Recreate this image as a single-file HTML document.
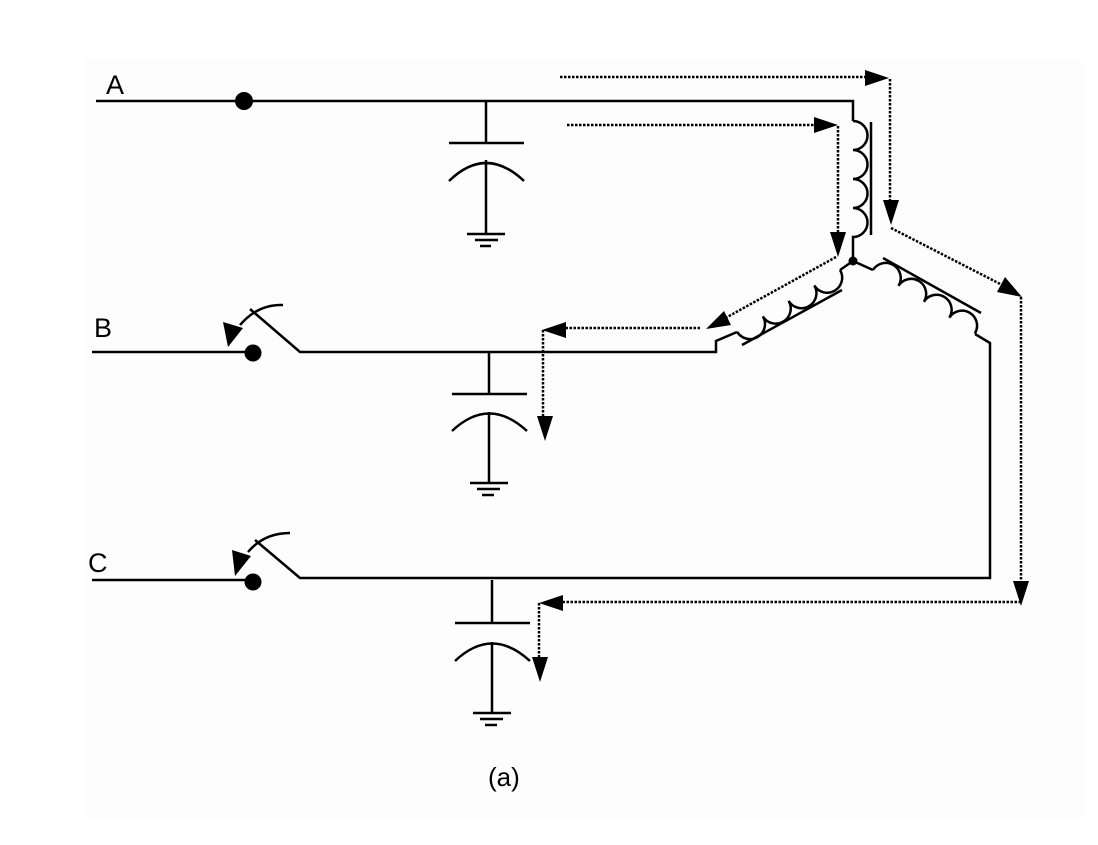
<!DOCTYPE html>
<html><head><meta charset="utf-8"><style>
html,body{margin:0;padding:0;background:#fff;}
svg{display:block;}
text{font-family:"Liberation Sans",sans-serif;fill:#000;}
</style></head><body>
<svg width="1098" height="845" viewBox="0 0 1098 845" xmlns="http://www.w3.org/2000/svg">
<rect x="85" y="59" width="1000" height="760" fill="#fdfdfd"/>
<g stroke="#000" stroke-width="2.5" fill="none">
<path d="M96 101 H853 V121"/>
<path d="M853 121 a14.5 14.5 0 0 1 0 29 a14.5 14.5 0 0 1 0 29 a14.5 14.5 0 0 1 0 29 a14.5 14.5 0 0 1 0 29 V261"/>
<line x1="871" y1="122" x2="871" y2="235"/>
<path d="M853 261 L840 270"/>
<g transform="translate(840,270) rotate(149)">
<path d="M0 0 a15 15 0 0 1 30 0 a15 15 0 0 1 30 0 a15 15 0 0 1 30 0 a15 15 0 0 1 30 0"/>
</g>
<path d="M737 332 L716 341 V352 H300 L250 309"/>
<line x1="742" y1="345" x2="842" y2="290"/>
<path d="M853 261 L873 270"/>
<g transform="translate(873,270) rotate(32)">
<path d="M0 0 a15 15 0 0 1 30 0 a15 15 0 0 1 30 0 a15 15 0 0 1 30 0 a15 15 0 0 1 30 0"/>
</g>
<path d="M975 334 L990 343 V578 H300 L255 540"/>
<line x1="883" y1="258" x2="981" y2="313"/>
<line x1="92" y1="352" x2="250" y2="352"/>
<line x1="92" y1="580" x2="250" y2="580"/>
<path d="M283 305 Q258 304 240 325"/>
<path d="M290 533 Q264 533 248 552"/>
<path d="M486 101 V143 M449 143 H524 M449 181 Q486 145 524 181 M486 160 V234 M467 234 H505 M475 240 H498 M480 246 H491"/>
<path d="M489 352 V394 M452 394 H527 M452 431 Q489 396 527 431 M489 412 V483 M470 483 H508 M477 489 H500 M482 495 H494"/>
<path d="M492 580 V623 M455 623 H530 M455 661 Q492 626 530 661 M492 642 V713 M473 713 H511 M480 719 H503 M485 725 H497"/>
</g>
<g fill="#000">
<circle cx="244" cy="101" r="9"/>
<circle cx="253" cy="353" r="8.5"/>
<circle cx="253" cy="582" r="8.5"/>
<circle cx="853" cy="261" r="4.5"/>
<polygon points="228,347 223,322 243,328"/>
<polygon points="235,576 232,550 251,556"/>
</g>
<g stroke="#000" stroke-width="2.5" fill="none" stroke-dasharray="2.5 1.5">
<path d="M560 77 H880 M890 79 V210 M891 228 L1010 289 M1021 297 V595"/>
<path d="M567 125 H828 M838 126 V245 M836 257 L720 321 M700 328 H552 M543 330 V428"/>
<path d="M1021 602 H552 M539 603 V668"/>
</g>
<g fill="#000">
<polygon points="889,78 865,70 865,86"/>
<polygon points="891,225 883,200 899,200"/>
<polygon points="1022,297 997,292 1005,277"/>
<polygon points="1021,606 1013,581 1029,581"/>
<polygon points="838,125 814,117 814,133"/>
<polygon points="838,257 830,232 846,232"/>
<polygon points="706,329 724,311 731,325"/>
<polygon points="542,330 566,322 566,338"/>
<polygon points="545,441 537,416 553,416"/>
<polygon points="539,603 563,595 563,611"/>
<polygon points="540,682 532,657 548,657"/>
</g>
<text x="106" y="94" font-size="27">A</text>
<text x="94" y="337" font-size="27">B</text>
<text x="88" y="572" font-size="27">C</text>
<text x="488" y="786" font-size="26">(a)</text>
</svg>
</body></html>
